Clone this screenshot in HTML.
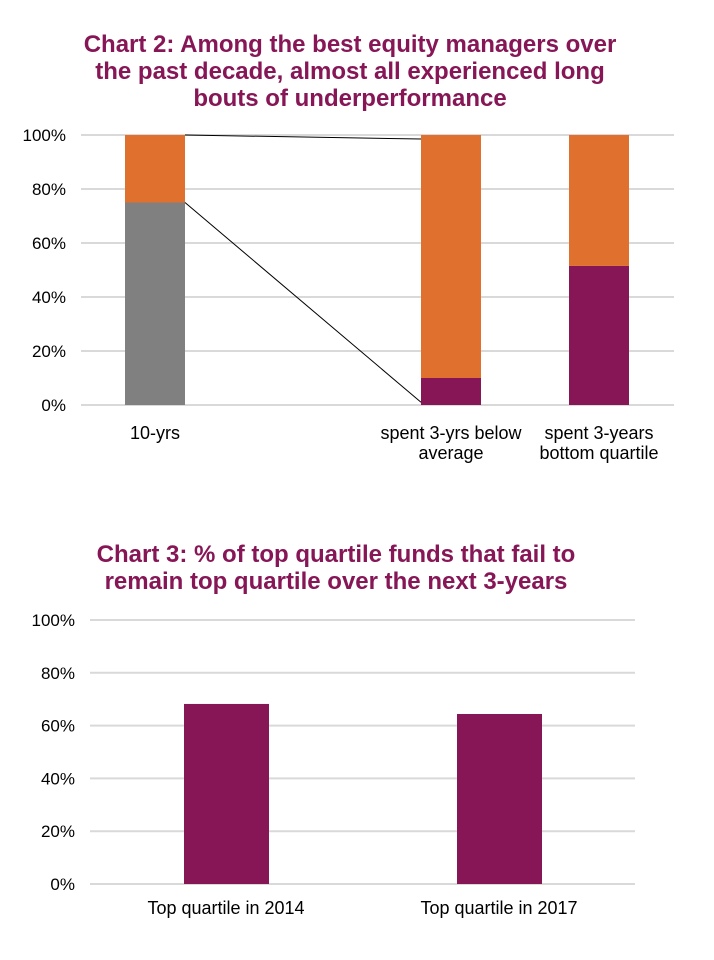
<!DOCTYPE html>
<html><head><meta charset="utf-8">
<style>
body{margin:0;background:#fff;width:714px;height:960px;overflow:hidden;font-family:"Liberation Sans",Arial,sans-serif;}
svg{position:absolute;left:0;top:0}
</style></head>
<body>
<svg id="svg" width="714" height="960" xmlns="http://www.w3.org/2000/svg">
<g font-family="Liberation Sans, Arial, sans-serif" font-weight="bold" font-size="24" fill="#861656" text-anchor="middle">
<text x="350" y="52">Chart 2: Among the best equity managers over</text>
<text x="350" y="79">the past decade, almost all experienced long</text>
<text x="350" y="106">bouts of underperformance</text>
<text x="336" y="562">Chart 3: % of top quartile funds that fail to</text>
<text x="336" y="589">remain top quartile over the next 3-years</text>
</g>
<g id="c2"></g>
<g id="c3"></g>
</svg>
<script>
const c2Categories=[["10-yrs"],["spent 3-yrs below","average"],["spent 3-years","bottom quartile"]];
const c2Base=[75,10,51.5];
const c2Top=[25,90,48.5];
const c2BaseColors=["#808080","#861656","#861656"];
const c2Ticks=[0,20,40,60,80,100];
const c2BarX=[155,451,599];
const c3Categories=["Top quartile in 2014","Top quartile in 2017"];
const c3Values=[68.2,64.4];
const c3Ticks=[0,20,40,60,80,100];
const c3BarX=[226,499];

const NS="http://www.w3.org/2000/svg";
function mk(p,t,a){const e=document.createElementNS(NS,t);for(const k in a)e.setAttribute(k,a[k]);p.appendChild(e);return e;}
// chart 2
const g2=document.getElementById('c2');
const y2=v=>405-v*2.7;
c2Ticks.forEach(t=>{
  const l=mk(g2,'line',{x1:81,x2:674,y1:y2(t),y2:y2(t),stroke:'#d9d9d9','stroke-width':2});
  
  
  const tx=mk(g2,'text',{x:66,y:y2(t)+6,'text-anchor':'end','font-size':17,fill:'#000'});
  tx.textContent=t+'%';
  
  
});
c2Categories.forEach((c,i)=>{
  const x=c2BarX[i]-30;
  const b=mk(g2,'rect',{x:x,y:y2(c2Base[i]),width:60,height:c2Base[i]*2.7,fill:c2BaseColors[i]});
  
  
  const t=mk(g2,'rect',{x:x,y:y2(c2Base[i]+c2Top[i]),width:60,height:c2Top[i]*2.7,fill:'#e0702e'});
  
  
  c.forEach((s,j)=>{
    const tx=mk(g2,'text',{x:c2BarX[i],y:439+j*20,'text-anchor':'middle','font-size':18,fill:'#000'});
    tx.textContent=s;
    
    
  });
});
const l1=mk(g2,'line',{x1:c2BarX[0]+30,y1:y2(c2Base[0]+c2Top[0]),x2:c2BarX[1]-30,y2:y2(98.5),stroke:'#000','stroke-width':1});


const l2=mk(g2,'line',{x1:c2BarX[0]+30,y1:y2(c2Base[0]),x2:c2BarX[1]-30,y2:y2(1),stroke:'#000','stroke-width':1});


// chart 3
const g3=document.getElementById('c3');
const y3=v=>884-v*2.64;
c3Ticks.forEach(t=>{
  const l=mk(g3,'line',{x1:90,x2:635,y1:y3(t),y2:y3(t),stroke:'#d9d9d9','stroke-width':2});
  
  
  const tx=mk(g3,'text',{x:75,y:y3(t)+6,'text-anchor':'end','font-size':17,fill:'#000'});
  tx.textContent=t+'%';
  
  
});
c3Categories.forEach((c,i)=>{
  const b=mk(g3,'rect',{x:c3BarX[i]-42,y:y3(c3Values[i]),width:85,height:c3Values[i]*2.64,fill:'#861656'});
  
  
  const tx=mk(g3,'text',{x:c3BarX[i],y:914,'text-anchor':'middle','font-size':18,fill:'#000'});
  tx.textContent=c;
  
  
});
</script>
</body></html>
